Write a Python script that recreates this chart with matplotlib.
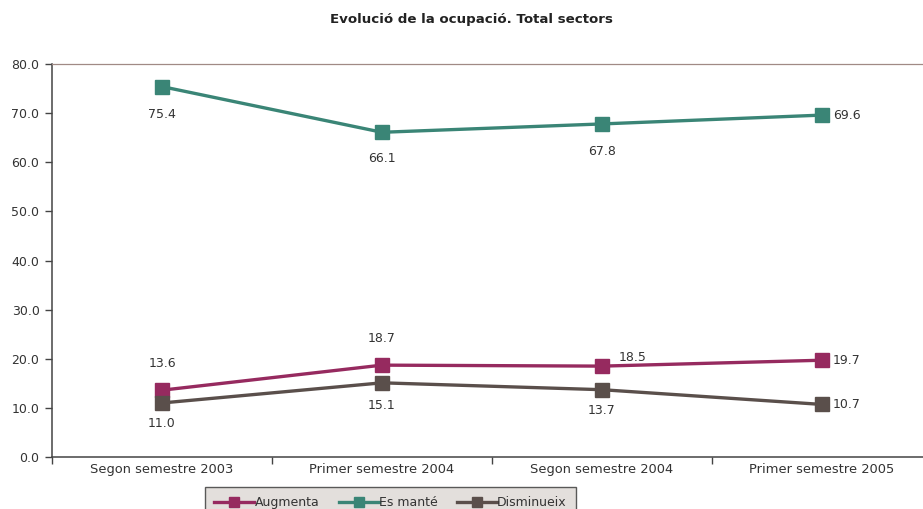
import matplotlib
matplotlib.use("Agg")
import matplotlib.pyplot as plt
from matplotlib.lines import Line2D

plt.rcParams['font.family'] = ['DejaVu Sans']

categories = ["Segon semestre 2003", "Primer semestre 2004", "Segon semestre 2004", "Primer semestre 2005"]
augmenta = [13.6, 18.7, 18.5, 19.7]
es_mante = [75.4, 66.1, 67.8, 69.6]
disminueix = [11.0, 15.1, 13.7, 10.7]
series_names = ["Augmenta", "Es manté", "Disminueix"]
yticks = [0, 10, 20, 30, 40, 50, 60, 70, 80]

c_aug = "#962a5f"
c_man = "#3a8576"
c_dis = "#5a4f4b"
txt = "#333333"

fig = plt.figure(figsize=(9.23, 5.09), dpi=100)
W, H = 923, 509
ax = fig.add_axes([52 / W, 1 - 457 / H, (932 - 52) / W, (457 - 64) / H])

x = list(range(len(categories)))
for vals, col in [(augmenta, c_aug), (es_mante, c_man), (disminueix, c_dis)]:
    ax.plot(x, vals, color=col, lw=2.4, marker='s', ms=9.5, mec=col, mfc=col, clip_on=False, zorder=3)

ax.set_xlim(-0.5, 3.5)
ax.set_ylim(0, 80)
ax.set_yticks(yticks)
ax.set_yticklabels([f"{v:.1f}" for v in yticks])
ax.set_xticks([i + 0.5 for i in range(-1, 4)], minor=False)
ax.set_xticklabels([])
ax.set_xticks(x, minor=True)
ax.set_xticklabels(categories, minor=True)
ax.tick_params(axis='x', which='minor', length=0, pad=4, labelsize=9.4, labelcolor=txt)
ax.tick_params(axis='x', which='major', length=5, width=1, color="#444444", direction='out')
ax.tick_params(axis='y', length=5, width=1, color="#444444", direction='out', labelsize=9, labelcolor=txt, pad=4)

ax.spines['right'].set_visible(False)
ax.spines['top'].set_color("#a08a85")
ax.spines['top'].set_linewidth(0.9)
ax.spines['left'].set_color("#444444")
ax.spines['bottom'].set_color("#444444")
ax.spines['left'].set_linewidth(1.1)
ax.spines['bottom'].set_linewidth(1.1)

fs = 9
def lab(xi, yi, dx, dy, ha='center'):
    ax.annotate(f"{yi:.1f}", (xi, yi), xytext=(dx, dy), textcoords='offset points',
                ha=ha, va='center', fontsize=fs, color=txt)

# Es manté
lab(0, es_mante[0], 0, -20)
lab(1, es_mante[1], 0, -19)
lab(2, es_mante[2], 0, -20)
lab(3, es_mante[3], 8, 0, 'left')
# Augmenta
lab(0, augmenta[0], 0, 19)
lab(1, augmenta[1], 0, 19)
lab(2, augmenta[2], 12, 6, 'left')
lab(3, augmenta[3], 8, 0, 'left')
# Disminueix
lab(0, disminueix[0], 0, -15)
lab(1, disminueix[1], 0, -16)
lab(2, disminueix[2], 0, -15)
lab(3, disminueix[3], 8, 0, 'left')

fig.text(471 / W, 1 - 20 / H, "Evolució de la ocupació. Total sectors", ha='center', va='center',
         fontsize=9.6, fontweight='bold', color="#222222")

handles = [Line2D([0], [0], color=c, lw=2.4, marker='s', ms=6.5, mfc=c, mec=c)
           for c in (c_aug, c_man, c_dis)]
leg = fig.legend(handles, series_names, loc='upper left', bbox_to_anchor=(205 / W, 1 - 487 / H),
                 ncol=3, frameon=True, fontsize=9, handlelength=3.2, handletextpad=0.05,
                 columnspacing=1.5, borderpad=0.75, borderaxespad=0, fancybox=False, labelcolor=txt)
leg.get_frame().set_facecolor("#dcd8d4")
leg.get_frame().set_edgecolor("#333333")
leg.get_frame().set_linewidth(1.0)

fig.savefig("out.png", dpi=100)
